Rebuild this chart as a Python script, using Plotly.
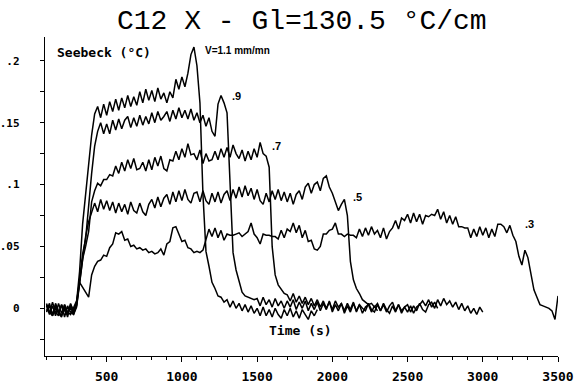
import plotly.graph_objects as go

# time sampling: every 20 s starting at 100 s
t_start = 100
t_step = 20

# Seebeck signal in milli-degrees C (one value per 20 s)
v11 = [3, -5, 2, -6, 4, -4, 1, -7, 3, -2,
       5, 30, 68, 92, 116, 140, 157, 163, 154, 165,
       156, 167, 159, 169, 160, 170, 162, 172, 163, 171,
       164, 175, 166, 177, 168, 176, 167, 178, 169, 174,
       166, 175, 170, 185, 177, 187, 179, 190, 205, 211,
       196, 166, 92, 46, 34, 21, 16, 10, 9, 5,
       7, 1, 6, 0, 4, -2, 3, -3, 2, -4,
       0, -6, 1, -6, -1, -7, 0, -5, -8, -1,
       -6, 0, -7, -2, -8, -1, -5, -9, -2, -6, -1]

v09 = [-2, 4, -6, 1, -4, 3, -7, 2, -3, -5,
       3, 25, 44, 56, 84, 109, 131, 143, 150, 141,
       149, 141, 152, 144, 153, 145, 152, 155, 146, 154,
       147, 156, 148, 155, 149, 158, 150, 159, 152, 155,
       159, 151, 160, 153, 162, 154, 160, 153, 161, 152,
       158, 150, 156, 147, 154, 143, 139, 165, 172, 166,
       158, 100, 45, 31, 21, 13, 10, 9, 8, 7,
       8, 2, 9, 3, 7, 1, 8, 2, 6, 0,
       6, 1, 7, -1, 5, 0, 6, -2, 4, -1,
       5, -2, 4, -1, 6, -3, 3, -2, 4, -4,
       2, -3, 4, -2, 3, -4, 1, 3, -3, 2, -2]

v07 = [2, -4, 5, -3, -6, 3, -2, -5, 4, -3,
       2, 22, 40, 50, 62, 86, 95, 101, 99, 104,
       104, 108, 107, 115, 109, 118, 111, 120, 113, 121,
       112, 113, 118, 111, 120, 112, 122, 115, 123, 113,
       111, 120, 119, 127, 120, 129, 122, 133, 124, 125,
       120, 128, 117, 125, 119, 120, 127, 120, 129, 122,
       130, 122, 132, 125, 121, 128, 119, 127, 120, 129,
       122, 134, 125, 123, 114, 50, 27, 19, 15, 12,
       11, 6, 12, 5, 10, 4, 9, 3, 8, 2,
       7, 1, 6, 0, 5, -1, 6, 1, 4, -2,
       4, -1, 5, -3, 3, 0, -2, 4, -1, -3,
       3, -2, 4, -1, -4, 2, -3, 3, -2, 1,
       -3, 2, -4, 1, 3, 6, 2, 7, 1, 5, 0]

v05 = [-3, 2, -5, 4, -2, -6, 3, -4, 1, -5,
       1, 20, 40, 58, 70, 78, 85, 78, 88, 80,
       87, 79, 86, 77, 85, 78, 84, 76, 86, 79,
       77, 85, 78, 75, 84, 88, 81, 90, 82, 89,
       92, 84, 94, 86, 95, 87, 96, 88, 85, 93,
       94, 86, 95, 87, 84, 93, 86, 94, 85, 92,
       95, 87, 96, 89, 98, 90, 99, 91, 97, 88,
       96, 87, 84, 93, 86, 95, 88, 96, 87, 94,
       86, 93, 84, 92, 95, 88, 98, 101, 93, 100,
       102, 95, 105, 107, 98, 93, 86, 79, 84, 88,
       75, 38, 23, 16, 12, 7, 5, 3, 4, 1,
       4, -2, 3, -3, 2, 5, -2, 3, -4, 1,
       3, -3, 2, -2, 4, -1, -3, 3, 5, 0,
       7, 2, 8, 3, 6, 1, 5, -1, 4, -2,
       2, -4, 0, -5, 1, -3]

v03 = [4, -3, -6, 2, -4, -7, 3, -3, -5, 1,
       6, 21, 17, 12, 9, 27, 34, 38, 39, 43,
       42, 49, 52, 61, 60, 62, 55, 56, 50, 51,
       48, 49, 47, 48, 45, 46, 44, 45, 48, 43,
       52, 54, 65, 66, 60, 54, 55, 49, 48, 45,
       46, 45, 47, 56, 64, 58, 65, 57, 63, 55,
       60, 59, 59, 60, 61, 58, 60, 62, 69, 60,
       57, 52, 60, 59, 59, 58, 58, 56, 63, 57,
       64, 62, 69, 61, 67, 57, 63, 54, 55, 48,
       47, 50, 60, 60, 63, 64, 69, 60, 60, 58,
       60, 59, 59, 57, 64, 58, 65, 59, 66, 60,
       63, 57, 65, 56, 62, 65, 71, 64, 73, 71,
       76, 69, 77, 70, 76, 68, 75, 74, 76, 75,
       80, 72, 78, 69, 75, 68, 74, 66, 66, 65,
       65, 57, 64, 58, 66, 59, 65, 57, 64, 58,
       68, 68, 66, 61, 67, 59, 54, 42, 35, 47,
       41, 27, 15, 9, 3, 2, 1, 0, -2, -9, 10]

series = [("V=1.1", v11), ("V=.9", v09), ("V=.7", v07), ("V=.5", v05), ("V=.3", v03)]

x_tick_vals = [500, 1000, 1500, 2000, 2500, 3000, 3500]
y_tick_vals = [0, 0.05, 0.1, 0.15, 0.2]
y_tick_text = ["0", ".05", ".1", ".15", ".2"]

fig = go.Figure()
for name, vals in series:
    t = [t_start + t_step * i for i in range(len(vals))]
    y = [v / 1000.0 for v in vals]
    fig.add_trace(go.Scatter(x=t, y=y, mode="lines", name=name,
                             line=dict(color="black", width=1.5),
                             showlegend=False, hoverinfo="skip"))

mono_b = dict(family="DejaVu Sans Mono", color="black", weight="bold")
sans_b = dict(family="Liberation Sans", color="black", weight="bold")

fig.update_layout(
    width=575, height=385,
    margin=dict(l=45, r=17, t=37, b=29, pad=0, autoexpand=False),
    paper_bgcolor="white", plot_bgcolor="white",
    xaxis=dict(range=[90, 3500], showgrid=False, zeroline=False, automargin=False,
               showline=True, linecolor="black", linewidth=1.4,
               ticks="outside", ticklen=5, tickwidth=1.3, tickcolor="black",
               tickvals=x_tick_vals, ticklabelstandoff=3,
               tickfont=dict(size=13, **mono_b),
               minor=dict(dtick=100, tick0=0, ticks="outside", ticklen=3,
                          tickwidth=1.2, tickcolor="black")),
    yaxis=dict(range=[-0.0385, 0.2192], showgrid=False, zeroline=False, automargin=False,
               showline=True, linecolor="black", linewidth=1.4,
               ticks="outside", ticklen=4, tickwidth=1.3, tickcolor="black",
               tickvals=y_tick_vals, ticktext=y_tick_text, ticklabelstandoff=18,
               tickfont=dict(size=11, **mono_b),
               minor=dict(dtick=0.025, tick0=0, ticks="outside", ticklen=4,
                          tickwidth=1.2, tickcolor="black")),
    annotations=[
        dict(text="C12 X - Gl=130.5 °C/cm", xref="paper", yref="paper",
             x=0.5, y=1.05, xanchor="center", yanchor="middle", showarrow=False,
             font=dict(family="Liberation Mono", size=28, color="black")),
        dict(text="Seebeck (°C)", xref="x", yref="y", x=156, y=0.2063,
             xanchor="left", yanchor="middle", showarrow=False,
             font=dict(size=13, **mono_b)),
        dict(text="Time (s)", xref="x", yref="y", x=1566, y=-0.0183,
             xanchor="left", yanchor="middle", showarrow=False,
             font=dict(size=13, **mono_b)),
        dict(text="V=1.1 mm/mn", xref="x", yref="y", x=1140, y=0.2086,
             xanchor="left", yanchor="middle", showarrow=False,
             font=dict(size=10, **sans_b)),
        dict(text=".9", xref="x", yref="y", x=1320, y=0.1715,
             xanchor="left", yanchor="middle", showarrow=False,
             font=dict(size=11, **sans_b)),
        dict(text=".7", xref="x", yref="y", x=1586, y=0.1311,
             xanchor="left", yanchor="middle", showarrow=False,
             font=dict(size=11, **sans_b)),
        dict(text=".5", xref="x", yref="y", x=2124, y=0.0903,
             xanchor="left", yanchor="middle", showarrow=False,
             font=dict(size=11, **sans_b)),
        dict(text=".3", xref="x", yref="y", x=3267, y=0.0681,
             xanchor="left", yanchor="middle", showarrow=False,
             font=dict(size=11, **sans_b)),
    ],
)

fig.write_html("out.html")
